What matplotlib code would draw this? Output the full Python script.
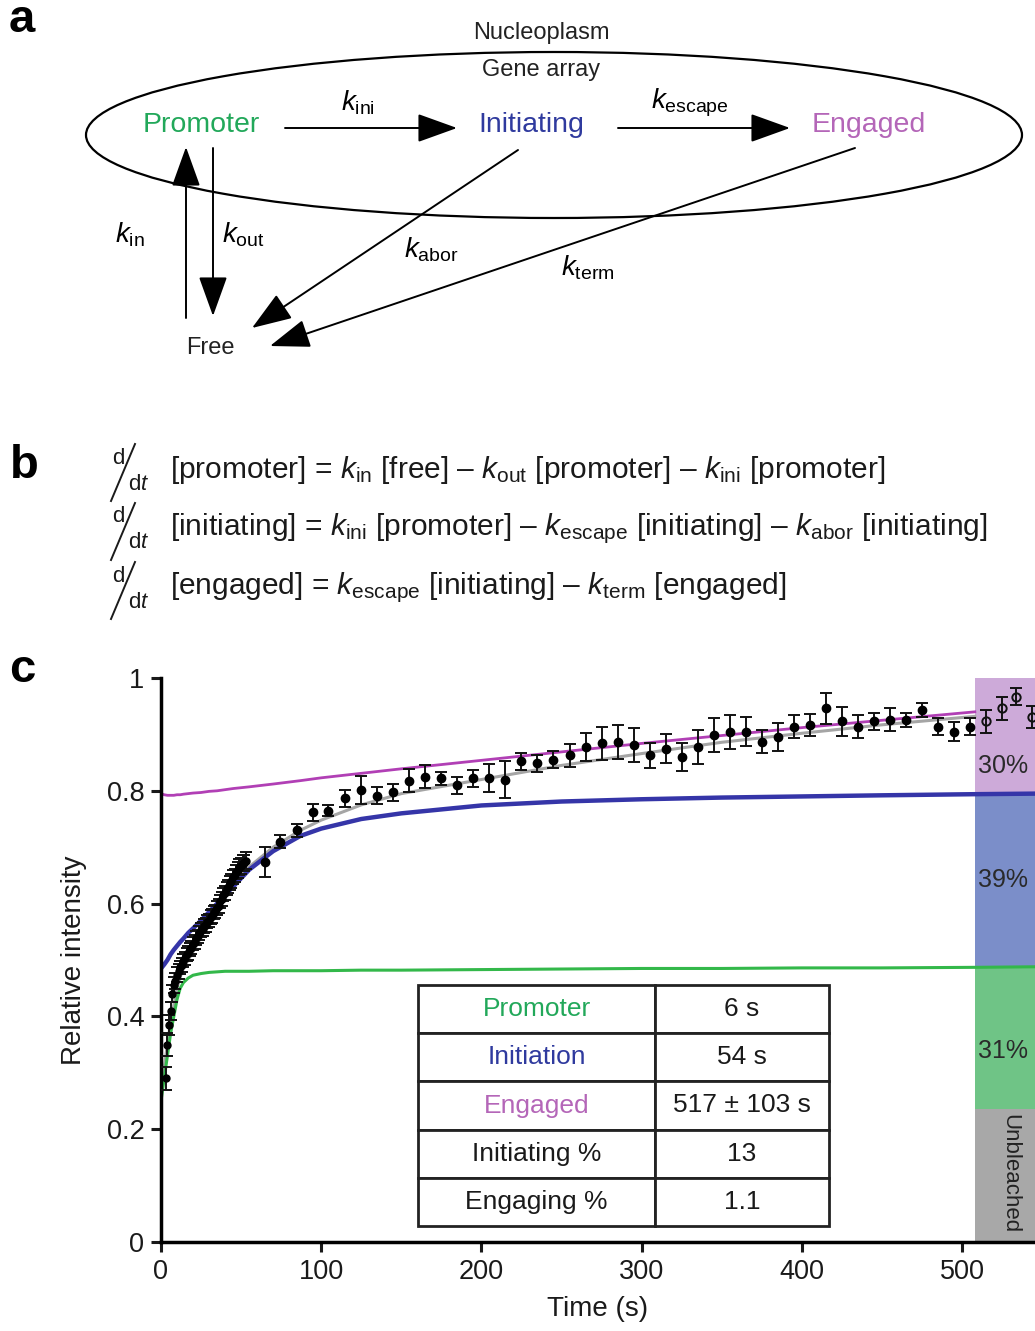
import matplotlib
matplotlib.use('Agg')
import matplotlib.pyplot as plt
from matplotlib.patches import Ellipse, FancyArrowPatch

plt.rcParams['font.family'] = ['Liberation Sans', 'DejaVu Sans']
plt.rcParams['mathtext.fontset'] = 'custom'
plt.rcParams['mathtext.rm'] = 'Liberation Sans'
plt.rcParams['mathtext.it'] = 'Liberation Sans:italic'
plt.rcParams['mathtext.bf'] = 'Liberation Sans:bold'

# ---------------- data (panel c) ----------------
early_t = [3, 4, 5, 6, 7, 8, 9, 10, 11, 12, 13, 14, 15, 16, 17, 18, 19, 20, 21, 22,
           23, 24, 25, 26, 27, 28, 29, 30, 31, 32, 33, 34, 35, 36, 37, 38, 39, 40,
           41, 42, 43, 44, 45, 46, 47, 48, 49, 50, 51, 52, 53]
early_v = [0.29, 0.35, 0.385, 0.41, 0.44, 0.455, 0.463, 0.474, 0.48, 0.487, 0.491, 0.499,
           0.503, 0.51, 0.512, 0.519, 0.522, 0.529, 0.532, 0.539, 0.542, 0.548, 0.553,
           0.555, 0.56, 0.562, 0.568, 0.57, 0.576, 0.578, 0.584, 0.586, 0.592, 0.596,
           0.604, 0.608, 0.616, 0.619, 0.627, 0.63, 0.637, 0.64, 0.647, 0.65, 0.656,
           0.659, 0.665, 0.667, 0.672, 0.672, 0.676]
early_e = [0.02, 0.02, 0.018, 0.016, 0.015, 0.014, 0.014, 0.013, 0.013, 0.012, 0.012,
           0.012, 0.012, 0.012, 0.012, 0.012, 0.012, 0.012, 0.012, 0.012, 0.012, 0.012,
           0.012, 0.012, 0.012, 0.012, 0.012, 0.012, 0.012, 0.012, 0.012, 0.012, 0.012,
           0.012, 0.012, 0.012, 0.012, 0.012, 0.012, 0.012, 0.012, 0.012, 0.012, 0.012,
           0.012, 0.014, 0.014, 0.014, 0.015, 0.015, 0.015]

late_t = [65, 74, 85, 95, 104, 115, 125, 135, 145, 155, 165, 175, 185, 195, 205, 215,
          225, 235, 245, 255, 265, 275, 285, 295, 305, 315, 325, 335, 345, 355, 365,
          375, 385, 395, 405, 415, 425, 435, 445, 455, 465, 475, 485, 495, 505]
late_v = [0.674, 0.710, 0.730, 0.762, 0.765, 0.787, 0.802, 0.791, 0.797, 0.818, 0.825,
          0.822, 0.810, 0.822, 0.822, 0.820, 0.852, 0.849, 0.855, 0.863, 0.878, 0.884,
          0.887, 0.881, 0.863, 0.875, 0.860, 0.878, 0.899, 0.905, 0.905, 0.887, 0.896,
          0.914, 0.917, 0.946, 0.923, 0.914, 0.923, 0.926, 0.926, 0.943, 0.914, 0.905,
          0.914]
late_e = [0.027, 0.012, 0.012, 0.015, 0.010, 0.015, 0.025, 0.015, 0.015, 0.020, 0.020,
          0.012, 0.015, 0.015, 0.025, 0.032, 0.015, 0.015, 0.015, 0.020, 0.025, 0.030,
          0.030, 0.030, 0.022, 0.025, 0.025, 0.030, 0.030, 0.030, 0.025, 0.020, 0.025,
          0.020, 0.020, 0.027, 0.025, 0.020, 0.015, 0.020, 0.012, 0.012, 0.015, 0.017,
          0.015]

open_t = [515, 525, 534, 544]
open_v = [0.923, 0.946, 0.967, 0.931]
open_e = [0.020, 0.020, 0.015, 0.020]

# fitted model curves
curve_t = [0, 2, 4, 6, 8, 10, 12, 14, 17, 20, 25, 30, 35, 40, 45, 55, 70, 87, 100,
           125, 150, 200, 250, 300, 350, 400, 450, 508, 546]
promoter_v = [0.25, 0.29, 0.33, 0.37, 0.40, 0.43, 0.45, 0.46, 0.468, 0.473, 0.476,
              0.478, 0.479, 0.48, 0.48, 0.48, 0.481, 0.481, 0.481, 0.482, 0.482, 0.483,
              0.484, 0.485, 0.485, 0.486, 0.486, 0.487, 0.488]
initiating_v = [0.485, 0.492, 0.50, 0.51, 0.518, 0.525, 0.532, 0.538, 0.548, 0.556,
                0.57, 0.585, 0.60, 0.615, 0.63, 0.66, 0.693, 0.72, 0.733, 0.75, 0.76,
                0.774, 0.781, 0.785, 0.788, 0.79, 0.792, 0.794, 0.795]
engaged_v = [0.795, 0.793, 0.792, 0.792, 0.792, 0.793, 0.793, 0.794, 0.795, 0.796,
             0.797, 0.799, 0.800, 0.802, 0.804, 0.807, 0.812, 0.818, 0.823, 0.831,
             0.839, 0.854, 0.869, 0.884, 0.898, 0.912, 0.925, 0.94, 0.948]
total_fit_v = [0.27, 0.31, 0.35, 0.39, 0.42, 0.45, 0.47, 0.485, 0.50, 0.515, 0.54,
               0.565, 0.59, 0.612, 0.635, 0.665, 0.70, 0.73, 0.748, 0.775, 0.795,
               0.82, 0.845, 0.866, 0.886, 0.902, 0.917, 0.932, 0.94]

band_start = 508
band_bottoms = [0.0, 0.235, 0.488, 0.795]
band_tops = [0.235, 0.488, 0.795, 1.0]
band_pcts = ['', '31%', '39%', '30%']
band_label_y = [0.122, 0.338, 0.642, 0.844]

tick_x = [0, 100, 200, 300, 400, 500]
tick_y = [0, 0.2, 0.4, 0.6, 0.8, 1.0]
tick_y_labels = ['0', '0.2', '0.4', '0.6', '0.8', '1']

table_rows = ['Promoter', 'Initiation', 'Engaged', 'Initiating %', 'Engaging %']
table_vals = ['6 s', '54 s', '517 \u00b1 103 s', '13', '1.1']

GREEN = '#22a85a'
BLUE = '#2f3a9e'
PURPLE = '#b466b8'
C_GREEN_LINE = '#33b84a'
C_BLUE_LINE = '#3535a8'
C_MAG_LINE = '#b13fb5'
band_colors = ['#a8a8a8', '#6fc486', '#7b8ec9', '#cdaad9']

W, H = 1035, 1331
fig = plt.figure(figsize=(W / 100, H / 100), dpi=100)

# overlay in pixel coordinates for panels a and b
ov = fig.add_axes([0, 0, 1, 1])
ov.set_xlim(0, W)
ov.set_ylim(H, 0)
ov.axis('off')

# panel letters
for lt, (px, py) in zip('abc', [(22, 20), (24, 466), (22, 670)]):
    ov.text(px, py, lt, fontsize=34, fontweight='bold', ha='center', va='center')

# ---------------- panel a ----------------
ov.add_patch(Ellipse((554, 135), 936, 166, fill=False, lw=1.6, ec='black'))
ov.text(541, 33, 'Nucleoplasm', fontsize=17, ha='center', va='center', color='#222222')
ov.text(541, 70, 'Gene array', fontsize=17, ha='center', va='center', color='#222222')
ov.text(201, 125, 'Promoter', fontsize=20.5, ha='center', va='center', color=GREEN)
ov.text(531, 125, 'Initiating', fontsize=20.5, ha='center', va='center', color=BLUE)
ov.text(869, 125, 'Engaged', fontsize=20.5, ha='center', va='center', color=PURPLE)
ov.text(210, 348, 'Free', fontsize=17, ha='center', va='center', color='#222222')


def arrow(p0, p1):
    ov.add_patch(FancyArrowPatch(p0, p1, arrowstyle='-|>,head_length=25,head_width=9',
                                 mutation_scale=1, lw=1.4, color='black',
                                 shrinkA=0, shrinkB=0))


arrow((285, 128), (457, 128))
arrow((618, 128), (790, 128))
arrow((186, 318), (186, 147))
arrow((213, 148), (213, 316))
arrow((518, 150), (252, 328))
arrow((855, 148), (270, 346))

ov.text(358, 103, r'$k_{\mathrm{ini}}$', fontsize=20, ha='center', va='center')
ov.text(690, 103, r'$k_{\mathrm{escape}}$', fontsize=20, ha='center', va='center')
ov.text(130, 235, r'$k_{\mathrm{in}}$', fontsize=20, ha='center', va='center')
ov.text(243, 235, r'$k_{\mathrm{out}}$', fontsize=20, ha='center', va='center')
ov.text(431, 250, r'$k_{\mathrm{abor}}$', fontsize=20, ha='center', va='center')
ov.text(588, 268, r'$k_{\mathrm{term}}$', fontsize=20, ha='center', va='center')

# ---------------- panel b ----------------
eqs = [r'[promoter] = $k_{\mathrm{in}}$ [free] – $k_{\mathrm{out}}$ [promoter] – $k_{\mathrm{ini}}$ [promoter]',
       r'[initiating] = $k_{\mathrm{ini}}$ [promoter] – $k_{\mathrm{escape}}$ [initiating] – $k_{\mathrm{abor}}$ [initiating]',
       r'[engaged] = $k_{\mathrm{escape}}$ [initiating] – $k_{\mathrm{term}}$ [engaged]']
for i, eq in enumerate(eqs):
    yc = 470 + 59 * i
    ov.text(170, yc, eq, fontsize=21.5, ha='left', va='center', color='#1a1a1a')
    ov.text(118, yc - 12, 'd', fontsize=16, ha='center', va='center', color='#1a1a1a')
    ov.text(139, yc + 14, r'd$t$', fontsize=16, ha='center', va='center', color='#1a1a1a')
    ov.plot([111, 135], [yc + 31, yc - 26], color='#1a1a1a', lw=1.4)

# ---------------- panel c ----------------
x0 = 161
px_per_s = 1.602
ax = fig.add_axes([x0 / W, 1 - 1242 / H, (W - x0) / W, (1242 - 678) / H])
ax.set_xlim(0, (W - x0) / px_per_s)
ax.set_ylim(0, 1)
for s in ['top', 'right']:
    ax.spines[s].set_visible(False)
for s in ['left', 'bottom']:
    ax.spines[s].set_linewidth(2.5)
ax.patch.set_alpha(0)

# bleach-fraction bands
for b0, b1, col in zip(band_bottoms, band_tops, band_colors):
    ax.bar(band_start, b1 - b0, bottom=b0, width=60, align='edge', color=col,
           linewidth=0, zorder=0)
for lab, yl in zip(band_pcts, band_label_y):
    if lab:
        ax.text(band_start + 2, yl, lab, fontsize=18, ha='left', va='center',
                color='#2a2a2a', zorder=1)
ax.text(530, 0.122, 'Unbleached', fontsize=16, rotation=270, ha='center',
        va='center', color='#222222', zorder=1)

# model curves
n_end = curve_t.index(508) + 1
ax.plot(curve_t[:n_end], total_fit_v[:n_end], color='#a5a5a5', lw=2.2, zorder=1.5)
ax.plot(curve_t[:n_end], engaged_v[:n_end], color=C_MAG_LINE, lw=2.0, zorder=2)
ax.plot(curve_t, initiating_v, color=C_BLUE_LINE, lw=3.2, zorder=2)
ax.plot(curve_t, promoter_v, color=C_GREEN_LINE, lw=2.2, zorder=2)

# data
eb_kw = dict(color='black', ecolor='#111111', elinewidth=1.4, capsize=4, capthick=1.4,
             zorder=3)
ax.errorbar(early_t, early_v, yerr=early_e, fmt='o', ms=5, **eb_kw)
ax.errorbar(late_t, late_v, yerr=late_e, fmt='o', ms=6, **eb_kw)
ax.errorbar(open_t, open_v, yerr=open_e, fmt='o', ms=6, mfc='none', mec='#111111',
            mew=1.4, **eb_kw)

ax.set_xticks(tick_x)
ax.set_yticks(tick_y)
ax.set_yticklabels(tick_y_labels)
ax.tick_params(direction='out', length=7, width=2.2, labelsize=19.5, pad=5,
               colors='#1a1a1a')
ax.set_xlabel('Time (s)', fontsize=20, labelpad=8, color='#1a1a1a')
ax.set_ylabel('Relative intensity', fontsize=20, labelpad=14, color='#1a1a1a')

# table of residence times
tx0 = (418 - x0) / (W - x0)
tw = (829 - 418) / (W - x0)
ty0 = (1242 - 1226) / 564
th = (1226 - 985) / 564
cells = [[r, v] for r, v in zip(table_rows, table_vals)]
tbl = ax.table(cellText=cells, cellLoc='center', colWidths=[0.577, 0.423],
               bbox=[tx0, ty0, tw, th], zorder=4)
tbl.auto_set_font_size(False)
tbl.set_fontsize(19)
row_colors = [GREEN, BLUE, PURPLE, '#1a1a1a', '#1a1a1a']
for (r, c), cell in tbl.get_celld().items():
    cell.set_linewidth(2.0)
    cell.set_edgecolor('#222222')
    cell.set_facecolor('white')
    cell.get_text().set_color(row_colors[r] if c == 0 else '#1a1a1a')

fig.savefig('out.png', dpi=100)
